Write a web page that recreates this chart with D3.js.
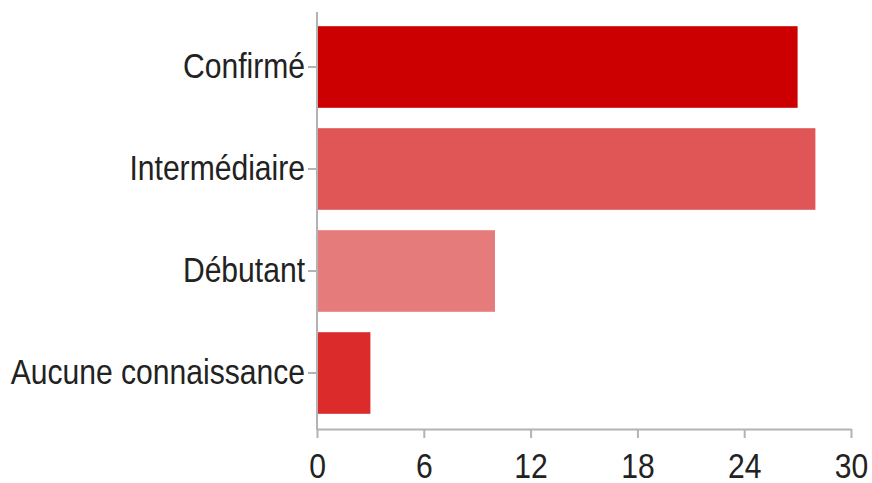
<!DOCTYPE html>
<html lang="fr">
<head>
    <meta charset="utf-8">
    <title>Niveau</title>
    <style type="text/css">
        body { margin: 0; background: #fff; }
        svg { display: block; }
        .axis text { font-family: "Liberation Sans", Arial, sans-serif; font-size: 35px; fill: #222; }
        .axis path, .axis line { stroke: #b3b3b3; stroke-width: 2px; }
    </style>
    <script type="text/javascript" src="https://cdn.jsdelivr.net/npm/d3@7"></script>
</head>
<body>
    <script type="text/javascript">
        var w = 872
        var h = 483

        var categories = ["Confirmé", "Intermédiaire", "Débutant", "Aucune connaissance"];
        var values = [27, 28, 10, 3];
        var colors = ["#cc0000", "#e05656", "#e57b7b", "#dc2b2b"];
        var xTicks = [0, 6, 12, 18, 24, 30];

        var svg = d3.select("body")
                    .append("svg")
                    .attr("width", w)
                    .attr("height", h);

        var x = d3.scaleLinear().domain([0, 30]).range([317, 851]);
        var y = d3.scaleBand().domain(categories).range([16, 424])
                  .paddingInner(0.2).paddingOuter(0.1);

        // bars
        svg.selectAll("rect")
           .data(values)
           .enter()
           .append("rect")
           .attr("x", x(0))
           .attr("y", function (d, i) { return y(categories[i]); })
           .attr("width", function (d) { return x(d) - x(0); })
           .attr("height", y.bandwidth())
           .attr("fill", function (d, i) { return colors[i]; });

        // x axis
        var xAxis = svg.append("g")
           .attr("class", "axis")
           .attr("transform", "translate(0,429)")
           .call(d3.axisBottom(x).tickValues(xTicks).tickSize(9).tickSizeOuter(0));
        xAxis.selectAll("text")
             .attr("y", 24)
             .attr("transform", "scale(0.86,1)");
        xAxis.selectAll(".tick").each(function (d) {
            // keep label centred on tick after horizontal squeeze
            d3.select(this).select("text").attr("x", 0);
        });

        // y axis
        var yAxis = svg.append("g")
           .attr("class", "axis")
           .attr("transform", "translate(317,0)")
           .call(d3.axisLeft(y).tickSize(9).tickSizeOuter(0));
        yAxis.select(".domain").attr("d", "M0,12V430");
        yAxis.selectAll("text")
             .attr("x", -12 / 0.86)
             .attr("transform", "scale(0.86,1)");
    </script>
</body>
</html>
